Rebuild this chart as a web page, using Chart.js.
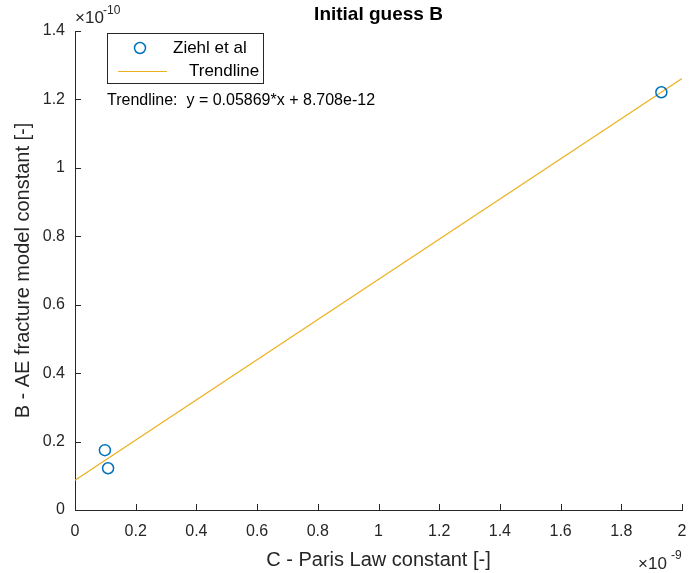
<!DOCTYPE html>
<html>
<head>
<meta charset="utf-8">
<script src="https://cdn.jsdelivr.net/npm/chart.js@4.4.1/dist/chart.umd.min.js"></script>
<style>
html,body{margin:0;padding:0;background:#fff;}
#wrap{width:689px;height:573px;position:relative;}
</style>
</head>
<body>
<div id="wrap"><canvas id="c" width="689" height="573"></canvas></div>
<script>
// Data (x in units of 1e-9, y in units of 1e-10)
const xExponent = -9;
const yExponent = -10;
const zieglX = [0.0985, 0.109, 1.932];
const zieglY = [0.175, 0.122, 1.221];
const trendX = [0, 2];
const trendY = [0.08708, 1.26088];
const xTicks = [0, 0.2, 0.4, 0.6, 0.8, 1, 1.2, 1.4, 1.6, 1.8, 2];
const xTickLabels = ['0', '0.2', '0.4', '0.6', '0.8', '1', '1.2', '1.4', '1.6', '1.8', '2'];
const yTicks = [0, 0.2, 0.4, 0.6, 0.8, 1, 1.2, 1.4];
const yTickLabels = ['0', '0.2', '0.4', '0.6', '0.8', '1', '1.2', '1.4'];
const titleText = 'Initial guess B';
const xLabel = 'C - Paris Law constant [-]';
const yLabel = 'B - AE fracture model constant [-]';
const seriesNames = ['Ziehl et al', 'Trendline'];
const annotation = 'Trendline:  y = 0.05869*x + 8.708e-12';

const FONT = '"Liberation Sans", Arial, Helvetica, sans-serif';
const AX = '#262626';
const BLUE = '#0072BD';
const GOLD = '#EDB120';

const decorPlugin = {
  id: 'decor',
  afterDraw(chart) {
    const ctx = chart.ctx;
    const xs = chart.scales.x, ys = chart.scales.y;
    const area = chart.chartArea;
    ctx.save();
    // inward tick marks
    ctx.strokeStyle = AX;
    ctx.lineWidth = 1;
    ctx.beginPath();
    xTicks.forEach(v => {
      const px = Math.round(xs.getPixelForValue(v)) + 0.5;
      ctx.moveTo(px, area.bottom);
      ctx.lineTo(px, area.bottom - 6);
    });
    yTicks.forEach(v => {
      const py = Math.round(ys.getPixelForValue(v)) + 0.5;
      ctx.moveTo(area.left, py);
      ctx.lineTo(area.left + 6, py);
    });
    ctx.stroke();

    // title
    ctx.fillStyle = '#000';
    ctx.font = 'bold 19px ' + FONT;
    ctx.textAlign = 'center';
    ctx.textBaseline = 'alphabetic';
    ctx.fillText(titleText, (area.left + area.right) / 2, 20);

    // axis labels
    ctx.fillStyle = AX;
    ctx.font = '20px ' + FONT;
    ctx.fillText(xLabel, (area.left + area.right) / 2, 566);
    ctx.save();
    ctx.translate(29, (area.top + area.bottom) / 2);
    ctx.rotate(-Math.PI / 2);
    ctx.fillText(yLabel, 0, 0);
    ctx.restore();

    // exponent labels
    ctx.textAlign = 'left';
    ctx.font = '17px ' + FONT;
    ctx.fillText('\u00d710', 75, 23);
    ctx.font = '12px ' + FONT;
    ctx.fillText(String(yExponent), 103, 14);
    ctx.font = '17px ' + FONT;
    ctx.fillText('\u00d710', 638, 569);
    ctx.font = '12px ' + FONT;
    ctx.fillText(String(xExponent), 671, 559);

    // legend
    ctx.fillStyle = '#fff';
    ctx.fillRect(107.5, 33.5, 156, 50);
    ctx.strokeStyle = AX;
    ctx.strokeRect(107.5, 33.5, 156, 50);
    ctx.strokeStyle = BLUE;
    ctx.lineWidth = 1.5;
    ctx.beginPath();
    ctx.arc(140, 48, 5.5, 0, Math.PI * 2);
    ctx.stroke();
    ctx.strokeStyle = GOLD;
    ctx.lineWidth = 1;
    ctx.beginPath();
    ctx.moveTo(118, 71.5);
    ctx.lineTo(167, 71.5);
    ctx.stroke();
    ctx.fillStyle = '#000';
    ctx.font = '17px ' + FONT;
    ctx.textBaseline = 'middle';
    ctx.fillText(seriesNames[0], 173, 48);
    ctx.fillText(seriesNames[1], 189, 71);

    // annotation
    ctx.font = '16px ' + FONT;
    ctx.textBaseline = 'middle';
    ctx.fillText(annotation, 107, 101);
    ctx.restore();
  }
};

new Chart(document.getElementById('c'), {
  type: 'scatter',
  data: {
    datasets: [
      {
        label: seriesNames[1],
        data: trendX.map((x, i) => ({x: x, y: trendY[i]})),
        showLine: true,
        borderColor: GOLD,
        borderWidth: 1.2,
        pointRadius: 0,
        fill: false,
        order: 2
      },
      {
        label: seriesNames[0],
        data: zieglX.map((x, i) => ({x: x, y: zieglY[i]})),
        showLine: false,
        borderColor: BLUE,
        backgroundColor: 'rgba(0,0,0,0)',
        borderWidth: 1.5,
        pointRadius: 5.5,
        pointStyle: 'circle',
        order: 1
      }
    ]
  },
  options: {
    responsive: false,
    animation: false,
    events: [],
    layout: { padding: { top: 31, right: 5, left: 0, bottom: 0 } },
    plugins: { legend: { display: false }, title: { display: false }, tooltip: { enabled: false } },
    scales: {
      x: {
        type: 'linear',
        min: 0, max: 2,
        afterFit(s) { s.height = 63; s.paddingLeft = 0; s.paddingRight = 0; },
        afterBuildTicks(s) { s.ticks = xTicks.map(v => ({value: v})); },
        grid: { display: true, drawOnChartArea: false, drawTicks: false },
        border: { display: true, color: AX, width: 1 },
        ticks: {
          padding: 12,
          color: AX,
          font: { family: FONT, size: 16 },
          maxRotation: 0,
          autoSkip: false,
          callback: (v, i) => xTickLabels[i]
        }
      },
      y: {
        type: 'linear',
        min: 0, max: 1.4,
        afterFit(s) { s.width = 75; s.paddingTop = 0; s.paddingBottom = 0; },
        afterBuildTicks(s) { s.ticks = yTicks.map(v => ({value: v})); },
        grid: { display: true, drawOnChartArea: false, drawTicks: false },
        border: { display: true, color: AX, width: 1 },
        ticks: {
          padding: 10,
          color: AX,
          font: { family: FONT, size: 16 },
          autoSkip: false,
          callback: (v, i) => yTickLabels[i]
        }
      }
    }
  },
  plugins: [decorPlugin]
});
</script>
</body>
</html>
